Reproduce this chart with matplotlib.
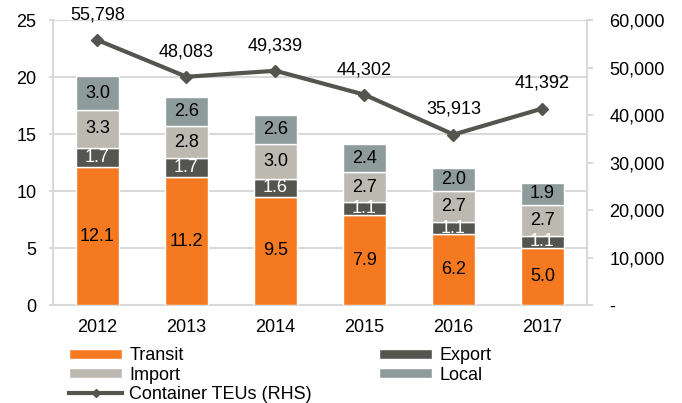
import matplotlib
matplotlib.use('Agg')
import matplotlib.pyplot as plt
import numpy as np

plt.rcParams['font.family'] = ['Liberation Sans', 'DejaVu Sans']

years = ['2012', '2013', '2014', '2015', '2016', '2017']
transit = [12.1, 11.2, 9.5, 7.9, 6.2, 5.0]
export = [1.7, 1.7, 1.6, 1.1, 1.1, 1.1]
imports = [3.3, 2.8, 3.0, 2.7, 2.7, 2.7]
local = [3.0, 2.6, 2.6, 2.4, 2.0, 1.9]
teus = [55798, 48083, 49339, 44302, 35913, 41392]

c_transit = "#F47920"
c_export = "#555550"
c_import = "#BCB9B1"
c_local = "#8E9B9B"
c_line = "#555550"
c_grid = "#D9D9D9"
fs = 13

fig = plt.figure(figsize=(6.82, 4.03), dpi=100)
ax = fig.add_axes([0.0777, 0.243, 0.783, 0.707])
x = np.arange(len(years))
w = 0.49

series = [(transit, c_transit, 'Transit', 'black'),
          (export, c_export, 'Export', 'white'),
          (imports, c_import, 'Import', 'black'),
          (local, c_local, 'Local', 'black')]
bottom = np.zeros(len(years))
handles = {}
for vals, col, name, tcol in series:
    bars = ax.bar(x, vals, w, bottom=bottom, color=col, edgecolor='white', linewidth=1, label=name, zorder=3)
    handles[name] = bars
    for xi, b, v in zip(x, bottom, vals):
        ax.text(xi, b + v / 2, f"{v:.1f}", ha='center', va='center', color=tcol, fontsize=fs, zorder=4)
    bottom += np.array(vals)

ax.set_xlim(-0.5, 5.5)
ax.set_ylim(0, 25)
ax.set_yticks(range(0, 26, 5))
ax.set_xticks(x)
ax.set_xticklabels(years)
ax.grid(axis='y', color=c_grid, linewidth=1.5, zorder=0)
ax.set_axisbelow(True)
for s in ['top', 'right']:
    ax.spines[s].set_visible(False)
for s in ['left', 'bottom']:
    ax.spines[s].set_color(c_grid)
    ax.spines[s].set_linewidth(1.5)
ax.tick_params(axis='both', labelsize=fs, colors=c_grid, labelcolor='black', length=3, width=1.5)
ax.tick_params(axis='y', pad=9)
ax.tick_params(axis='x', length=0, pad=10)

ax2 = ax.twinx()
line, = ax2.plot(x, teus, color=c_line, linewidth=3, marker='D', markersize=6, label='Container TEUs (RHS)', zorder=5)
for xi, v in zip(x, teus):
    ax2.annotate(f"{v:,}", (xi, v), xytext=(0, 12), textcoords='offset points', ha='center', va='bottom', fontsize=fs)
ax2.set_ylim(0, 60000)
ax2.set_yticks(range(0, 60001, 10000))
ax2.set_yticklabels(['-'] + [f"{v:,}" for v in range(10000, 60001, 10000)])
for s in ['top', 'left', 'bottom']:
    ax2.spines[s].set_visible(False)
ax2.spines['right'].set_color(c_grid)
ax2.spines['right'].set_linewidth(1.5)
ax2.tick_params(axis='y', labelsize=fs, colors=c_grid, labelcolor='black', length=4, width=1.5, pad=12)

order = [handles['Transit'], handles['Import'], line, handles['Export'], handles['Local']]
labels = ['Transit', 'Import', 'Container TEUs (RHS)', 'Export', 'Local']
fig.legend(order, labels, ncol=2, loc='upper left', bbox_to_anchor=(0.101, 0.138),
           frameon=False, fontsize=fs, handlelength=2.95, handleheight=0.45,
           handletextpad=0.4, columnspacing=3.7, labelspacing=0.12, borderaxespad=0, borderpad=0,
           markerscale=0.7)

plt.savefig('out.png', dpi=100, facecolor='white')
plt.close()
